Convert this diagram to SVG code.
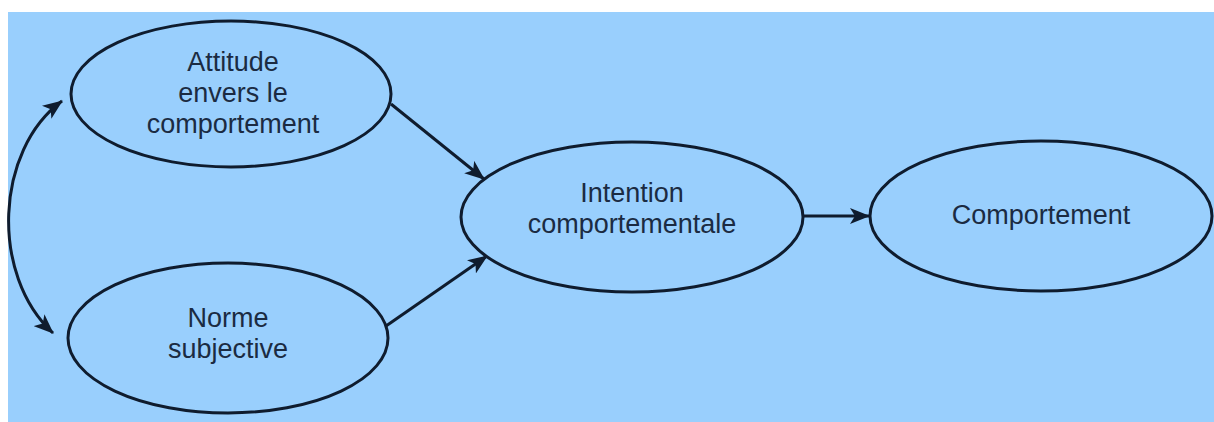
<svg xmlns="http://www.w3.org/2000/svg" width="1214" height="422" viewBox="0 0 1214 422">
<style>
.bg{fill:#99cffd}
.node ellipse{fill:#99cffd;stroke:#0f1c2e;stroke-width:3}
.node text{font-family:"Liberation Sans",Arial,sans-serif;font-size:27px;fill:#1b2b42;text-anchor:middle}
.edge{fill:none;stroke:#0f1c2e;stroke-width:3}
</style>
<defs>
<marker id="arr" viewBox="0 0 20 16" refX="19" refY="8" markerWidth="20" markerHeight="16" markerUnits="userSpaceOnUse" orient="auto-start-reverse">
<path d="M0,0 L20,8 L0,16 L5,8 Z" fill="#0f1c2e"/>
</marker>
</defs>
<rect class="bg" x="8" y="12" width="1206" height="410"/>
<g id="connectors">
<path class="edge" d="M391,104 L484,179" marker-end="url(#arr)"/>
<path class="edge" d="M386,326 L487,256" marker-end="url(#arr)"/>
<path class="edge" d="M803,216 L869,216" marker-end="url(#arr)"/>
<path class="edge" d="M62,101 C-5,150 -10,275 53,333" marker-start="url(#arr)" marker-end="url(#arr)"/>
</g>
<g id="attitude" class="node">
<ellipse cx="231" cy="94" rx="160" ry="73"/>
<text x="233" y="71">Attitude</text>
<text x="233" y="102">envers le</text>
<text x="233" y="133">comportement</text>
</g>
<g id="norme" class="node">
<ellipse cx="228" cy="338" rx="160" ry="75"/>
<text x="228" y="327">Norme</text>
<text x="228" y="358">subjective</text>
</g>
<g id="intention" class="node">
<ellipse cx="632" cy="217" rx="171" ry="75"/>
<text x="632" y="202">Intention</text>
<text x="632" y="233">comportementale</text>
</g>
<g id="comportement" class="node">
<ellipse cx="1041" cy="216" rx="171" ry="75"/>
<text x="1041" y="224">Comportement</text>
</g>
</svg>
